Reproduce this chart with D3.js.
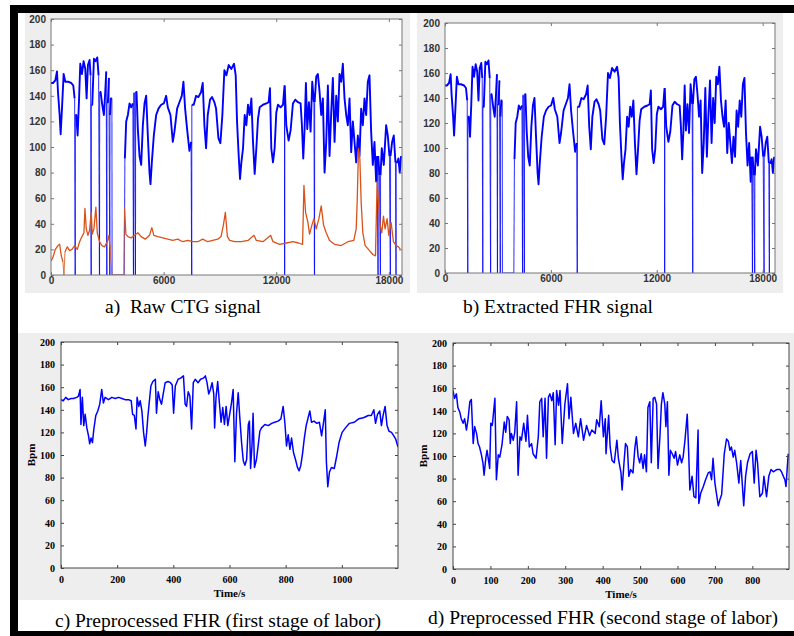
<!DOCTYPE html>
<html>
<head>
<meta charset="utf-8">
<script src="https://cdn.jsdelivr.net/npm/d3@7"></script>
<style>
body { margin: 0; background: #fff; }
svg { display: block; }
</style>
</head>
<body>
<svg id="fig" width="794" height="636"></svg>
<script>
// raw CTG record: [sample index, FHR bpm]; zeros are signal dropouts
var rawFhr = [[0,150],[106,150],[230,152],[319,159],[372,143],[460,125],[514,110],[585,130],[673,157],[762,151],[904,151],[1081,150],[1188,148],[1258,138],[1290,0],[1298,125],[1347,125],[1418,109],[1489,135],[1560,165],[1648,157],[1737,167],[1826,161],[1897,138],[1968,164],[2056,168],[2109,156],[2141,0],[2149,133],[2198,133],[2287,169],[2375,167],[2464,170],[2535,156],[2584,0],[2592,143],[2641,143],[2730,133],[2819,125],[2890,143],[2943,159],[2974,0],[2982,135],[3031,135],[3085,154],[3134,0],[3142,125],[3190,138],[3244,138],[3256,0],[3900,0],[3936,91],[4006,120],[4095,125],[4184,134],[4273,131],[4361,134],[4395,0],[4403,142],[4450,142],[4499,0],[4507,143],[4556,143],[4627,114],[4716,93],[4804,86],[4893,117],[4982,134],[5070,140],[5159,109],[5248,80],[5301,71],[5372,88],[5478,109],[5602,125],[5726,130],[5868,133],[6010,134],[6134,140],[6223,131],[6364,125],[6489,104],[6577,112],[6719,130],[6843,135],[6968,140],[7056,151],[7145,130],[7251,114],[7375,97],[7464,104],[7495,0],[7503,133],[7605,133],[7730,140],[7854,139],[7996,143],[8084,150],[8173,117],[8262,99],[8350,125],[8474,137],[8581,139],[8705,135],[8794,130],[8918,107],[9024,103],[9130,125],[9237,160],[9344,156],[9468,164],[9610,161],[9751,165],[9840,156],[9911,120],[10000,93],[10071,75],[10142,88],[10230,99],[10319,125],[10408,117],[10496,133],[10585,125],[10674,138],[10762,104],[10851,79],[10940,99],[11028,122],[11117,131],[11294,133],[11471,134],[11595,135],[11666,146],[11737,99],[11826,88],[11914,99],[12003,127],[12092,133],[12234,131],[12358,133],[12442,148],[12446,0],[12450,148],[12535,117],[12659,105],[12765,113],[12889,134],[13013,137],[13155,135],[13297,134],[13368,117],[13439,91],[13510,114],[13581,150],[13652,114],[13741,135],[13829,112],[13918,151],[14007,135],[14038,0],[14046,135],[14131,155],[14219,157],[14308,143],[14397,125],[14485,138],[14574,80],[14663,104],[14751,148],[14840,93],[14929,127],[15017,154],[15106,104],[15195,140],[15283,120],[15372,157],[15461,151],[15549,165],[15638,138],[15727,125],[15815,117],[15904,138],[15993,96],[16081,120],[16170,104],[16259,88],[16347,109],[16436,93],[16524,130],[16613,117],[16702,138],[16790,125],[16879,151],[16968,156],[17056,112],[17145,86],[17234,104],[17322,73],[17375,93],[17425,0],[17433,93],[17499,78],[17549,0],[17557,78],[17623,99],[17730,86],[17854,117],[17943,109],[18031,93],[18081,0],[18089,93],[18173,104],[18262,109],[18351,88],[18382,0],[18390,88],[18440,88],[18510,91],[18581,80],[18652,93]];

// raw CTG record: [sample index, uterine contraction]
var rawUc = [[0,11],[106,14],[230,20],[372,23],[460,24],[549,15],[638,10],[691,0],[744,18],[868,22],[992,19],[1117,20],[1258,23],[1400,20],[1524,26],[1648,30],[1755,33],[1808,52],[1879,36],[1968,31],[2056,35],[2145,49],[2198,32],[2287,36],[2393,53],[2464,33],[2588,26],[2712,23],[2854,22],[2996,26],[3085,31],[3155,20],[3244,0],[3882,0],[3918,52],[3989,32],[4095,30],[4273,29],[4450,31],[4627,33],[4804,30],[5017,28],[5248,31],[5372,37],[5478,31],[5691,30],[5957,29],[6223,28],[6489,27],[6755,28],[7021,26],[7287,27],[7553,26],[7819,26],[8084,28],[8350,26],[8616,27],[8882,28],[9059,30],[9184,39],[9290,49],[9397,30],[9521,27],[9787,26],[10142,26],[10496,27],[10815,31],[10940,27],[11294,26],[11702,31],[11826,26],[12181,24],[12535,25],[12889,26],[13191,25],[13404,24],[13475,70],[13563,49],[13688,41],[13776,32],[13900,39],[14007,44],[14131,36],[14273,44],[14397,54],[14521,39],[14663,33],[14840,27],[15106,24],[15461,23],[15815,26],[16134,27],[16259,36],[16312,57],[16383,99],[16454,91],[16524,57],[16613,33],[16737,23],[16914,20],[17145,16],[17287,15],[17375,73],[17446,57],[17535,39],[17623,33],[17712,46],[17800,36],[17907,44],[17996,31],[18120,41],[18244,26],[18386,23],[18510,22],[18617,20]];

// preprocessed FHR, first stage of labor: [time s, bpm]
var stage1Fhr = [[0,149],[8,148],[17,151],[26,149],[36,150],[45,150],[56,151],[62,152],[68,158],[71,127],[76,151],[81,126],[86,136],[92,124],[98,117],[102,110],[107,115],[112,111],[117,123],[124,135],[131,139],[138,145],[145,158],[151,146],[157,151],[169,149],[181,151],[193,150],[205,151],[217,150],[228,149],[240,149],[250,148],[255,136],[261,135],[267,123],[271,151],[277,143],[282,148],[288,139],[294,120],[300,108],[305,120],[309,133],[314,146],[320,161],[327,165],[336,167],[340,137],[346,156],[352,149],[358,145],[364,154],[371,164],[381,165],[390,164],[396,162],[401,137],[407,161],[417,167],[426,168],[436,170],[442,145],[447,143],[453,156],[459,152],[465,123],[471,164],[478,167],[488,164],[497,167],[507,168],[514,170],[520,164],[526,154],[532,158],[538,164],[544,154],[547,124],[552,151],[558,165],[564,146],[570,129],[576,142],[582,127],[588,143],[594,126],[600,135],[607,146],[613,158],[619,94],[625,137],[631,155],[637,132],[643,111],[649,95],[655,91],[661,96],[667,127],[671,130],[675,88],[680,108],[684,137],[689,89],[696,96],[702,108],[708,121],[714,124],[726,127],[738,126],[750,128],[761,129],[773,130],[783,132],[791,143],[797,129],[803,108],[809,118],[815,105],[821,115],[828,102],[835,96],[842,89],[848,86],[854,91],[860,101],[866,114],[873,126],[880,133],[886,139],[892,129],[901,130],[911,128],[920,129],[928,117],[935,129],[941,140],[945,94],[950,72],[956,85],[963,89],[973,88],[981,98],[990,111],[1001,120],[1013,124],[1027,128],[1044,129],[1060,132],[1077,133],[1094,135],[1105,135],[1114,140],[1120,128],[1127,136],[1135,139],[1141,126],[1147,135],[1154,143],[1161,126],[1168,121],[1177,120],[1185,117],[1192,114],[1200,107]];

// preprocessed FHR, second stage of labor: [time s, bpm]
var stage2Fhr = [[0,158],[4,151],[9,155],[13,143],[18,139],[22,133],[27,129],[31,133],[36,123],[40,132],[45,148],[49,150],[54,111],[58,126],[63,120],[67,111],[71,108],[76,101],[80,94],[83,83],[88,99],[91,105],[96,94],[98,89],[101,129],[105,127],[112,151],[116,79],[121,101],[125,99],[131,110],[137,130],[141,121],[145,135],[150,132],[153,111],[156,120],[161,114],[165,121],[170,148],[174,83],[179,117],[183,114],[189,129],[195,113],[199,136],[204,108],[210,111],[214,102],[222,98],[228,117],[232,148],[237,151],[241,117],[246,151],[250,98],[255,152],[259,155],[264,149],[268,156],[273,110],[277,158],[282,145],[286,158],[292,111],[299,146],[306,164],[310,133],[315,152],[322,120],[328,129],[335,117],[341,133],[349,114],[357,127],[365,118],[371,123],[380,120],[384,132],[391,126],[396,149],[402,117],[407,133],[409,102],[416,136],[420,108],[425,96],[431,94],[438,114],[442,98],[449,85],[452,70],[457,94],[461,111],[466,108],[470,82],[475,88],[481,85],[486,107],[490,117],[495,99],[499,94],[503,102],[508,89],[512,101],[517,86],[521,143],[526,148],[530,94],[535,151],[539,152],[544,146],[548,89],[553,117],[557,146],[561,156],[566,146],[569,126],[573,148],[577,83],[581,105],[586,102],[591,98],[595,104],[600,92],[606,101],[611,94],[615,99],[620,114],[626,137],[630,102],[633,70],[639,82],[644,64],[649,63],[655,123],[657,58],[662,67],[669,73],[675,79],[682,85],[687,86],[691,79],[695,98],[700,76],[704,67],[709,56],[713,61],[718,66],[725,102],[731,115],[736,113],[740,105],[744,108],[749,99],[753,105],[758,94],[764,76],[769,96],[773,76],[777,56],[782,82],[787,94],[794,102],[800,104],[805,76],[810,105],[814,94],[820,64],[827,67],[831,82],[838,64],[844,82],[850,88],[856,86],[865,88],[874,88],[878,86],[883,82],[887,79],[890,73],[893,88],[896,102]];

var bpmTicks = [0,20,40,60,80,100,120,140,160,180,200];
var rawTicks = [0,6000,12000,18000];
var stage1Ticks = [0,200,400,600,800,1000];
var stage2Ticks = [0,100,200,300,400,500,600,700,800];

var captions = [
  {text: "a)  Raw CTG signal", x: 183, y: 313},
  {text: "b) Extracted FHR signal", x: 558, y: 313},
  {text: "c) Preprocessed FHR (first stage of labor)", x: 218, y: 627},
  {text: "d) Preprocessed FHR (second stage of labor)", x: 603, y: 624}
];

var svg = d3.select("#fig");
var BLUE = "#0000ff", ORANGE = "#d95319";

// gray panel backgrounds
svg.append("rect").attr("x", 25).attr("y", 13).attr("width", 385).attr("height", 280).attr("fill", "#eeeeee");
svg.append("rect").attr("x", 417).attr("y", 13).attr("width", 366).attr("height", 280).attr("fill", "#eeeeee");
svg.append("rect").attr("x", 18).attr("y", 333).attr("width", 776).attr("height", 267).attr("fill", "#eeeeee");

function drawPanel(p) {
  var g = svg.append("g");
  var x = d3.scaleLinear().domain(p.xDomain).range([p.left, p.right]);
  var y = d3.scaleLinear().domain([0, 200]).range([p.bottom, p.top]);
  var w = p.right - p.left, h = p.bottom - p.top;

  g.append("rect").attr("x", p.left).attr("y", p.top).attr("width", w).attr("height", h).attr("fill", "#fff");

  var clipId = "clip" + p.id;
  g.append("clipPath").attr("id", clipId).append("rect")
    .attr("x", p.left).attr("y", p.top).attr("width", w).attr("height", h);

  var line = d3.line().x(function(d) { return x(d[0]); }).y(function(d) { return y(d[1]); });
  p.series.forEach(function(s) {
    // dropout segments (touching zero) are drawn thin, like in the record
    var drops = [];
    for (var i = 0; i < s.pts.length - 1; i++) {
      if (s.pts[i][1] == 0 || s.pts[i + 1][1] == 0) drops.push([s.pts[i], s.pts[i + 1]]);
    }
    g.append("g").attr("clip-path", "url(#" + clipId + ")")
      .selectAll("path").data(drops).enter().append("path")
      .attr("fill", "none")
      .attr("stroke", s.color)
      .attr("stroke-opacity", 0.75)
      .attr("stroke-width", 1.1)
      .attr("d", line);

    g.append("path").datum(s.pts)
      .attr("clip-path", "url(#" + clipId + ")")
      .attr("fill", "none")
      .attr("stroke", s.color)
      .attr("stroke-width", s.width)
      .attr("stroke-linejoin", "round")
      .attr("d", line.defined(function(d) { return d[1] > 0; }));
    line.defined(function() { return true; });
  });

  var tk = 3;
  var left = g.append("g").attr("transform", "translate(" + p.left + ",0)")
    .call(d3.axisLeft(y).tickValues(bpmTicks).tickSizeInner(-tk).tickSizeOuter(0).tickPadding(p.padY));
  var bottom = g.append("g").attr("transform", "translate(0," + p.bottom + ")")
    .call(d3.axisBottom(x).tickValues(p.xTicks).tickSizeInner(-tk).tickSizeOuter(0).tickPadding(p.padX).tickFormat(d3.format("d")));
  var top = g.append("g").attr("transform", "translate(0," + p.top + ")")
    .call(d3.axisTop(x).tickValues(p.xTicks).tickSizeInner(-tk).tickSizeOuter(0).tickFormat(""));
  var right = g.append("g").attr("transform", "translate(" + p.right + ",0)")
    .call(d3.axisRight(y).tickValues(bpmTicks).tickSizeInner(-tk).tickSizeOuter(0).tickFormat(""));

  [left, bottom, top, right].forEach(function(a) {
    a.select(".domain").remove();
    a.selectAll(".tick line").attr("stroke", p.axisColor);
    a.selectAll("text")
      .attr("font-family", p.font)
      .attr("font-weight", "bold")
      .attr("font-size", 10)
      .attr("fill", p.textColor);
  });

  g.append("rect").attr("x", p.left).attr("y", p.top).attr("width", w).attr("height", h)
    .attr("fill", "none").attr("stroke", p.axisColor).attr("stroke-width", 1);

  if (p.xLabel) {
    g.append("text").attr("x", (p.left + p.right) / 2).attr("y", p.bottom + 29)
      .attr("text-anchor", "middle").attr("font-family", p.font).attr("font-weight", "bold")
      .attr("font-size", 11).text(p.xLabel);
    g.append("text").attr("transform", "translate(" + (p.left - 26) + "," + ((p.top + p.bottom) / 2) + ") rotate(-90)")
      .attr("text-anchor", "middle").attr("font-family", p.font).attr("font-weight", "bold")
      .attr("font-size", 11).text(p.yLabel);
  }
}

drawPanel({
  id: "a", left: 51, right: 402, top: 19, bottom: 275, xDomain: [0, 18700], xTicks: rawTicks,
  series: [
    {pts: rawFhr, color: BLUE, width: 1.9},
    {pts: rawUc, color: ORANGE, width: 1.3}
  ],
  font: "Liberation Sans, Arial, sans-serif", textColor: "#333", axisColor: "#777", padY: 5, padX: 2
});

drawPanel({
  id: "b", left: 445, right: 775, top: 23, bottom: 273, xDomain: [0, 18700], xTicks: rawTicks,
  series: [{pts: rawFhr, color: BLUE, width: 1.9}],
  font: "Liberation Sans, Arial, sans-serif", textColor: "#333", axisColor: "#777", padY: 5, padX: 2
});

drawPanel({
  id: "c", left: 61, right: 398, top: 342, bottom: 568, xDomain: [0, 1200], xTicks: stage1Ticks,
  series: [{pts: stage1Fhr, color: BLUE, width: 1.5}],
  font: "Liberation Serif, Times New Roman, serif", textColor: "#000", axisColor: "#444", padY: 6, padX: 8,
  xLabel: "Time/s", yLabel: "Bpm"
});

drawPanel({
  id: "d", left: 453, right: 789, top: 343, bottom: 569, xDomain: [0, 898], xTicks: stage2Ticks,
  series: [{pts: stage2Fhr, color: BLUE, width: 1.5}],
  font: "Liberation Serif, Times New Roman, serif", textColor: "#000", axisColor: "#444", padY: 6, padX: 8,
  xLabel: "Time/s", yLabel: "Bpm"
});

svg.selectAll(".caption").data(captions).enter().append("text")
  .attr("class", "caption")
  .attr("x", function(d) { return d.x; })
  .attr("y", function(d) { return d.y; })
  .attr("text-anchor", "middle")
  .attr("font-family", "Liberation Serif, Times New Roman, serif")
  .attr("font-size", 19.5)
  .style("white-space", "pre")
  .text(function(d) { return d.text; });

// black border strips
svg.append("rect").attr("x", 10).attr("y", 5).attr("width", 784).attr("height", 8).attr("fill", "#000");
svg.append("rect").attr("x", 10).attr("y", 5).attr("width", 8).attr("height", 631).attr("fill", "#000");
svg.append("rect").attr("x", 10).attr("y", 631).attr("width", 784).attr("height", 5).attr("fill", "#000");
</script>
</body>
</html>
